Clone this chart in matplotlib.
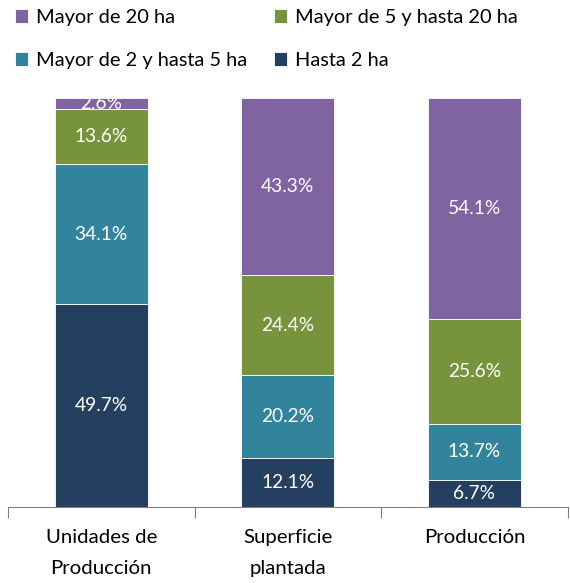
import matplotlib
matplotlib.use("Agg")
import matplotlib.pyplot as plt
import numpy as np

categories = ["Unidades de\nProducción", "Superficie\nplantada", "Producción"]
series_names = ["Hasta 2 ha", "Mayor de 2 y hasta 5 ha", "Mayor de 5 y hasta 20 ha", "Mayor de 20 ha"]
hasta_2 = [49.7, 12.1, 6.7]
de_2_a_5 = [34.1, 20.2, 13.7]
de_5_a_20 = [13.6, 24.4, 25.6]
mayor_20 = [2.6, 43.3, 54.1]
colors = ["#243F60", "#31849B", "#77933C", "#8064A2"]

plt.rcParams["font.family"] = ["Lato", "DejaVu Sans"]

fig = plt.figure(figsize=(5.70, 5.83), dpi=100)
ax = fig.add_axes([0.014, 0.130, 0.982, 0.702])

x = np.arange(len(categories))
bottom = np.zeros(len(categories))
handles = []
for name, vals, col in zip(series_names, [hasta_2, de_2_a_5, de_5_a_20, mayor_20], colors):
    vals = np.array(vals)
    bars = ax.bar(x, vals, width=0.5, bottom=bottom, color=col,
                  edgecolor="white", linewidth=0.6, label=name)
    handles.append(bars)
    for xi, b, v in zip(x, bottom, vals):
        ax.text(xi, b + v / 2, f"{v:.1f}%", ha="center", va="center",
                color="white", fontsize=13.8)
    bottom += vals

ax.set_xlim(-0.5, 2.5)
ax.set_ylim(0, 100)
ax.set_yticks([])
for s in ["top", "right", "left"]:
    ax.spines[s].set_visible(False)
ax.spines["bottom"].set_color("#808080")
ax.set_xticks([-0.5, 0.5, 1.5, 2.5])
ax.set_xticklabels([])
ax.set_xticks(x, minor=True)
ax.set_xticklabels(categories, minor=True, fontsize=14.7, linespacing=1.95)
ax.tick_params(axis="x", which="major", length=8, color="#808080", direction="out")
ax.tick_params(axis="x", which="minor", length=0, pad=16)

# column-major order so rows read: >20, 5-20 / 2-5, <=2
order = [3, 1, 2, 0]
fig.legend([handles[i] for i in order], [series_names[i] for i in order],
           loc="upper left", bbox_to_anchor=(0.0105, 1.0), ncol=2, frameon=False,
           fontsize=14.4, handlelength=0.65, handleheight=0.65, handletextpad=0.4,
           columnspacing=1.35, labelspacing=1.3, borderaxespad=0.05)

fig.savefig("out.png", dpi=100)
